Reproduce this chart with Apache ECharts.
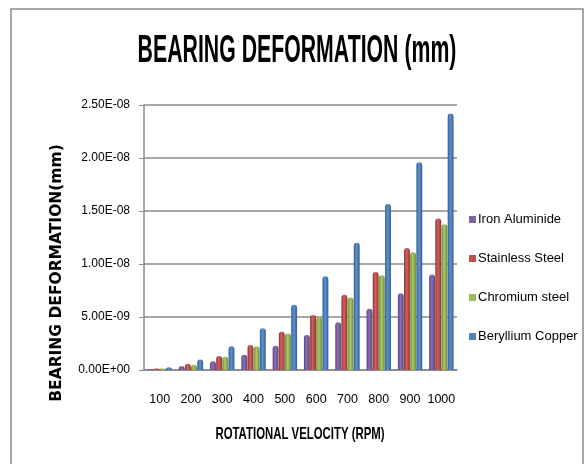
<!DOCTYPE html>
<html>
<head>
<meta charset="utf-8">
<script src="https://cdn.jsdelivr.net/npm/echarts@6/dist/echarts.min.js"></script>
<style>
html,body{margin:0;padding:0;background:#fff;}
#c{width:587px;height:464px;}
</style>
</head>
<body>
<div id="c"></div>
<script>
const categories = ['100','200','300','400','500','600','700','800','900','1000'];
const ironAluminide   = [0.10e-9, 0.38e-9, 0.82e-9, 1.45e-9, 2.28e-9, 3.30e-9, 4.50e-9, 5.77e-9, 7.25e-9, 9.00e-9];
const stainlessSteel  = [0.15e-9, 0.60e-9, 1.33e-9, 2.35e-9, 3.60e-9, 5.20e-9, 7.10e-9, 9.25e-9, 11.5e-9, 14.3e-9];
const chromiumSteel   = [0.13e-9, 0.50e-9, 1.24e-9, 2.25e-9, 3.45e-9, 4.97e-9, 6.84e-9, 8.93e-9, 11.1e-9, 13.75e-9];
const berylliumCopper = [0.25e-9, 1.00e-9, 2.25e-9, 3.93e-9, 6.15e-9, 8.84e-9, 12.0e-9, 15.65e-9, 19.6e-9, 24.2e-9];
const seriesNames = ['Iron Aluminide','Stainless Steel','Chromium steel','Beryllium Copper'];
const seriesData = [ironAluminide, stainlessSteel, chromiumSteel, berylliumCopper];
const titleText = 'BEARING DEFORMATION (mm)';
const xTitle = 'ROTATIONAL VELOCITY (RPM)';
const yTitle = 'BEARING DEFORMATION(mm)';
const colors = [['#5d4480','#8d70b0'],['#8f3230','#d3625f'],['#6f8a38','#aacb68'],['#335f94','#5e92cf']];
const flat = ['#8064A2','#C0504D','#9BBB59','#4F81BD'];

function fmt(v){
  if (v === 0) return '0.00E+00';
  let s = v.toExponential(2).toUpperCase();
  let [m,e] = s.split('E');
  let sign = e[0]==='-'?'-':'+';
  let d = e.replace(/[+-]/,'');
  if (d.length<2) d='0'+d;
  return m+'E'+sign+d;
}

const chart = echarts.init(document.getElementById('c'), null, {renderer:'canvas'});
const sans = '"Liberation Sans", Arial, sans-serif';
chart.setOption({
  animation:false,
  graphic:[
    {type:'rect', shape:{x:11,y:9,width:572,height:470}, style:{fill:'none', stroke:'#8a8a8a', lineWidth:1.5}, silent:true},
    {type:'text', x:297, y:52, scaleX:0.56, silent:true,
     style:{text:titleText, textAlign:'center', textVerticalAlign:'middle', font:'bold 38px "Liberation Sans", Arial, sans-serif', fill:'#000'}},
    {type:'text', x:300, y:434, scaleX:0.67, silent:true,
     style:{text:xTitle, textAlign:'center', textVerticalAlign:'middle', font:'bold 17px "Liberation Sans", Arial, sans-serif', fill:'#000'}},
    {type:'text', x:57, y:273, rotation:Math.PI/2, silent:true,
     style:{text:yTitle, textAlign:'center', textVerticalAlign:'middle', font:'bold 15.5px "DejaVu Sans", sans-serif', fill:'#000'}}
  ],
  legend:{
    orient:'vertical', left:464, top:208, itemWidth:7, itemHeight:7, itemGap:26, icon:'rect',
    textStyle:{fontFamily:sans, fontSize:13, color:'#000', padding:[0,0,0,-3]},
    data:seriesNames.map((n,i)=>({name:n, itemStyle:{color:flat[i]}}))
  },
  grid:{left:144, right:130, top:105, bottom:94},
  xAxis:{
    type:'category', data:categories,
    axisLine:{lineStyle:{color:'#8a8a8a', width:1.5}},
    axisTick:{show:false},
    axisLabel:{fontFamily:sans, fontSize:12.5, color:'#000', margin:23, interval:0}
  },
  yAxis:{
    type:'value', min:0, max:2.5e-8, interval:5e-9,
    axisLine:{show:true, lineStyle:{color:'#8a8a8a', width:1.5}},
    axisTick:{show:true, length:5, lineStyle:{color:'#8a8a8a'}},
    splitLine:{lineStyle:{color:'#8a8a8a', width:1.5}},
    axisLabel:{fontFamily:sans, fontSize:12, color:'#000', margin:14, formatter:fmt}
  },
  series:seriesData.map((d,i)=>({
    name:seriesNames[i], type:'bar', data:d, barGap:'5%', barCategoryGap:'22%',
    itemStyle:{color:new echarts.graphic.LinearGradient(0,0,1,0,[
      {offset:0,color:colors[i][0]},{offset:0.45,color:colors[i][1]},{offset:1,color:colors[i][0]}]),
      borderRadius:[3,3,0,0]}
  }))
});
</script>
</body>
</html>
